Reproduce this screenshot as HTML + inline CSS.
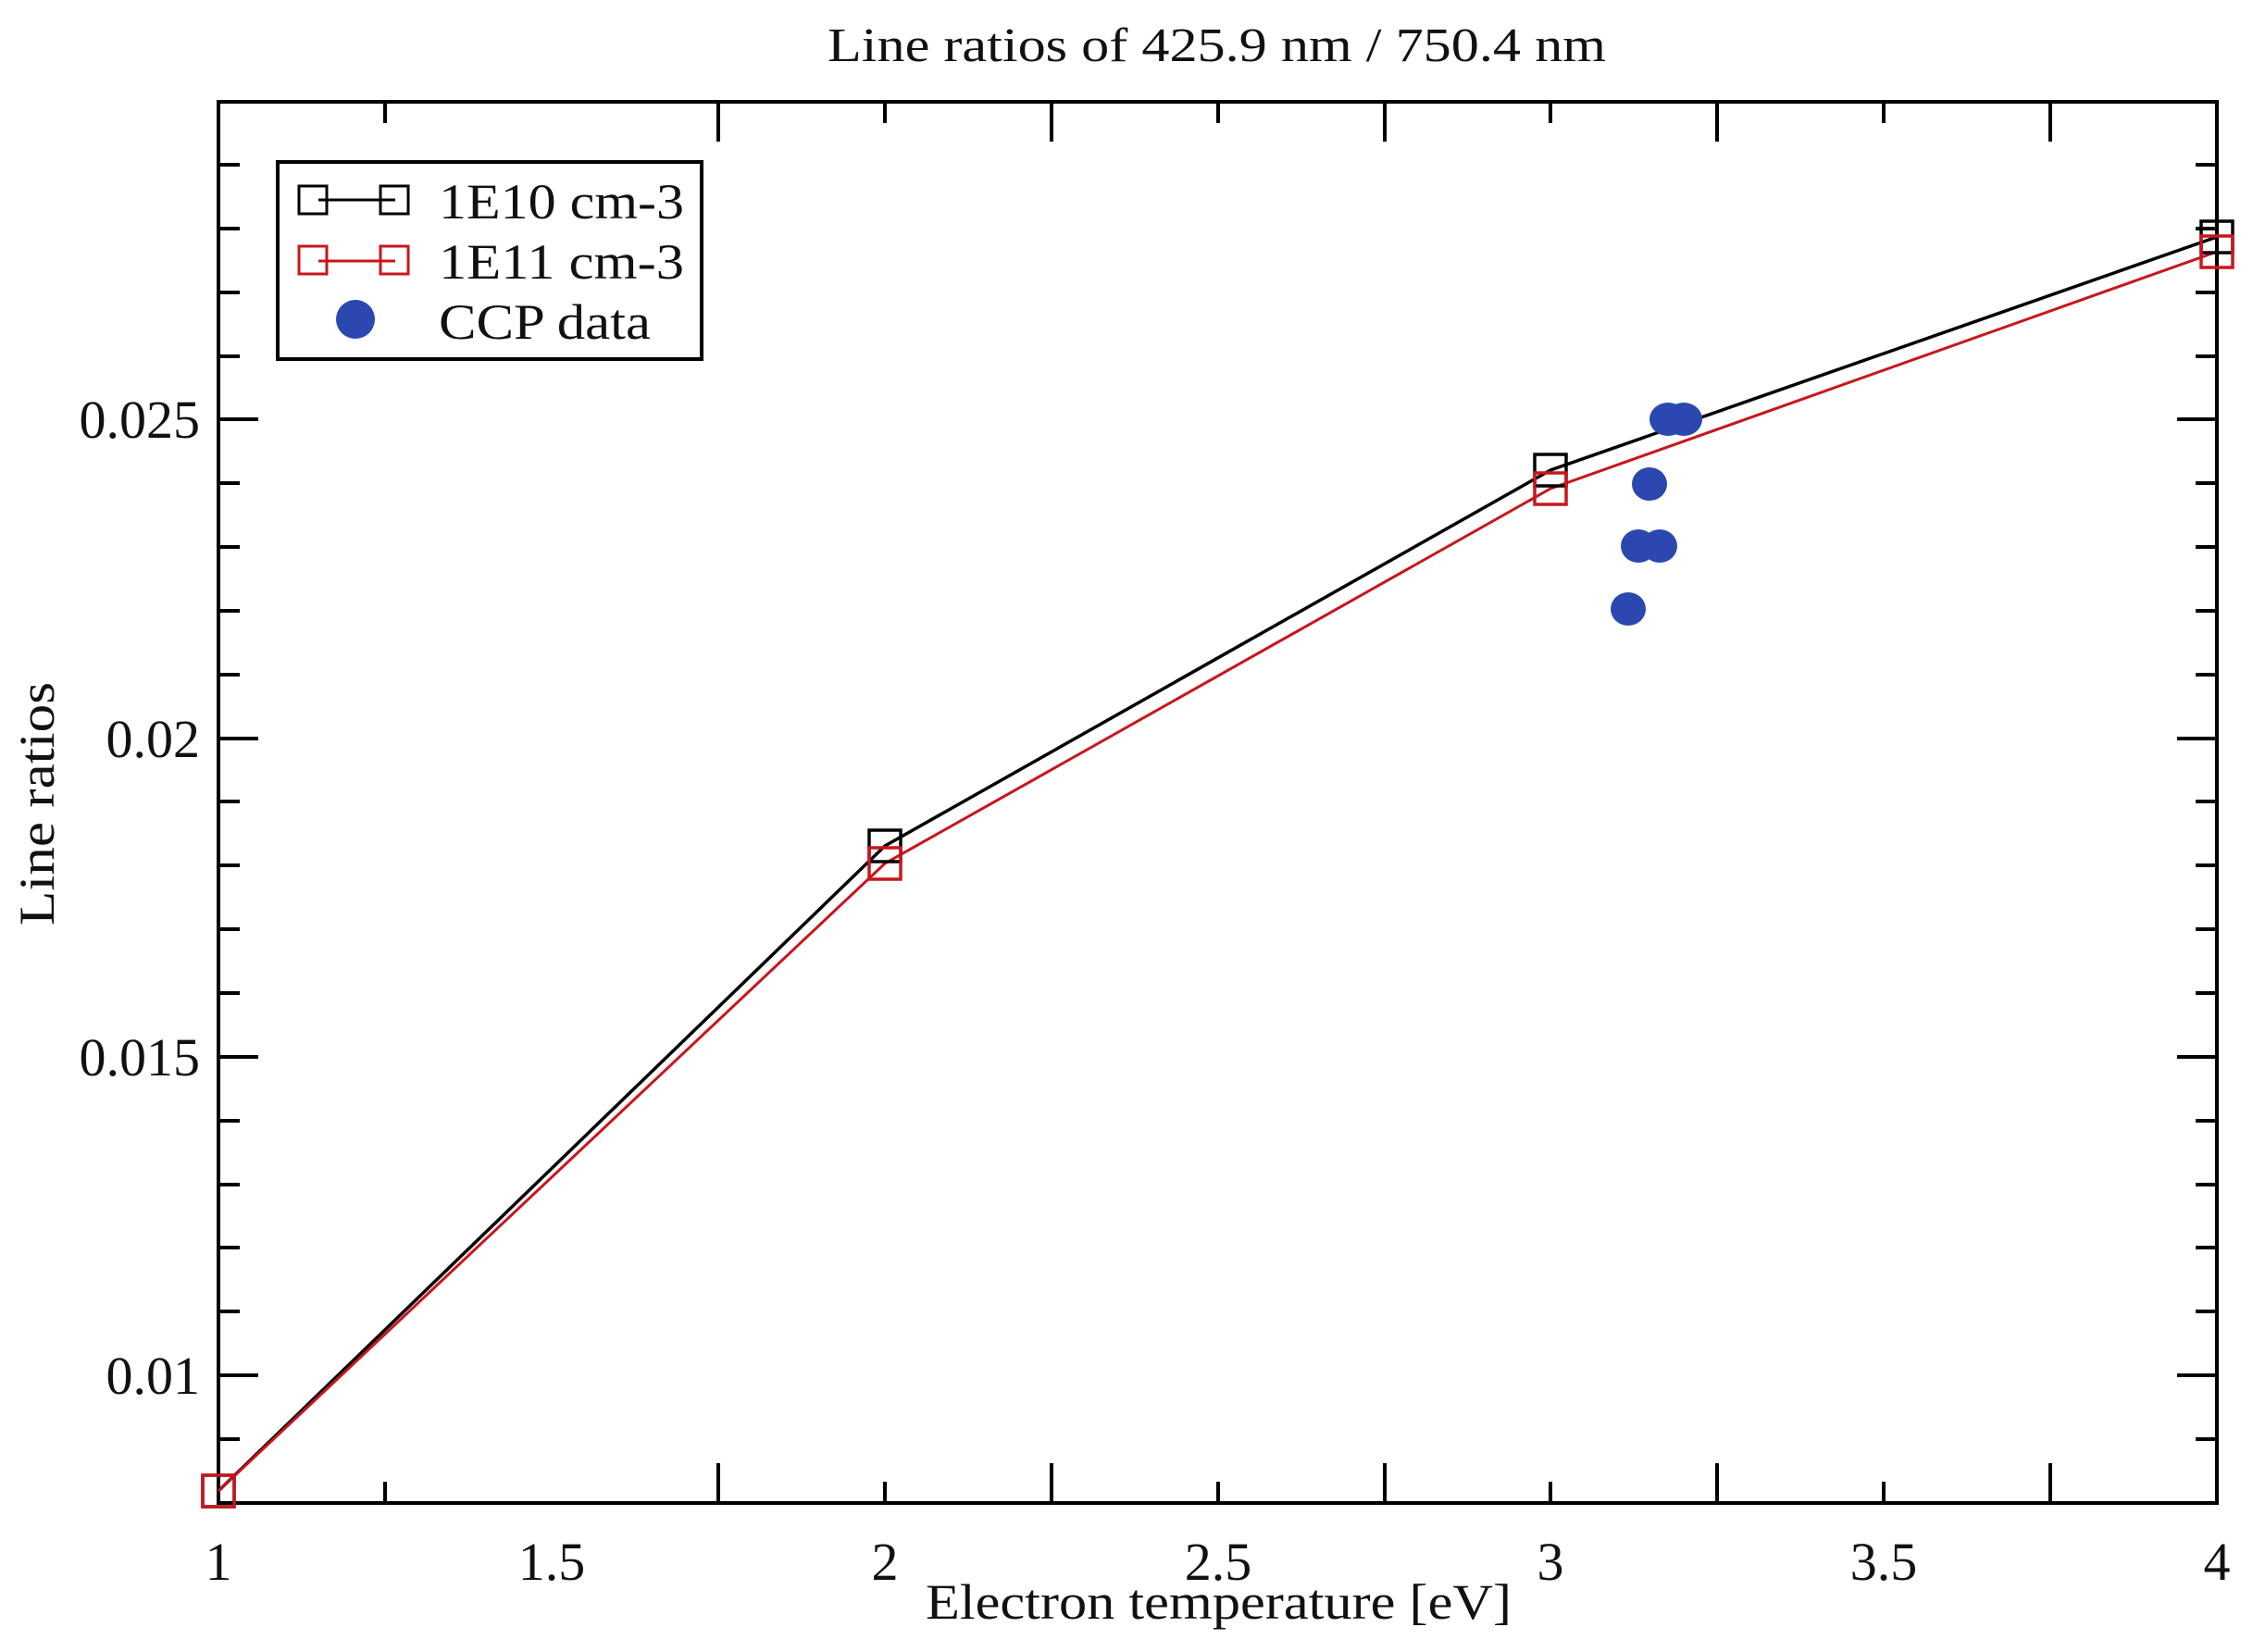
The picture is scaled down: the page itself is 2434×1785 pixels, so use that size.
<!DOCTYPE html>
<html><head><meta charset="utf-8"><style>html,body{margin:0;padding:0;background:#fff}svg{display:block}</style></head>
<body>
<svg width="2434" height="1785" viewBox="0 0 2434 1785" xmlns="http://www.w3.org/2000/svg" font-family="Liberation Serif, serif">
<rect width="2434" height="1785" fill="#fff"/>
<g id="ticks" stroke="#000" stroke-width="4">
<!-- x ticks -->
<path d="M416,1624v-23M416,110v23M776,1624v-43M776,110v43M956,1624v-23M956,110v23M1136,1624v-43M1136,110v43M1316,1624v-23M1316,110v23M1496,1624v-43M1496,110v43M1675,1624v-23M1675,110v23M1855,1624v-43M1855,110v43M2035,1624v-23M2035,110v23M2215,1624v-43M2215,110v43"/>
<!-- y ticks -->
<path id="yt" d="
M236,1555h23M236,1486h43M236,1417h23M236,1348h23M236,1280h23M236,1211h23M236,1142h43M236,1073h23M236,1004h23M236,935h23M236,866h23M236,798h43M236,729h23M236,660h23M236,591h23M236,522h23M236,453h43M236,385h23M236,316h23M236,247h23M236,178h23
M2395,1555h-23M2395,1486h-43M2395,1417h-23M2395,1348h-23M2395,1280h-23M2395,1211h-23M2395,1142h-43M2395,1073h-23M2395,1004h-23M2395,935h-23M2395,866h-23M2395,798h-43M2395,729h-23M2395,660h-23M2395,591h-23M2395,522h-23M2395,453h-43M2395,385h-23M2395,316h-23M2395,247h-23M2395,178h-23"/>
</g>
<rect x="236" y="110" width="2159" height="1514" fill="none" stroke="#000" stroke-width="4"/>
<!-- series -->
<polyline points="236,1611 956,914 1675,508 2395,256" fill="none" stroke="#000" stroke-width="3.5"/>
<polyline points="236,1611 956,933 1675,528 2395,272" fill="none" stroke="#c8161d" stroke-width="3"/>
<g fill="none" stroke-width="3.5">
<g stroke="#000">
<rect x="219" y="1594" width="34" height="34"/>
<rect x="939" y="897" width="34" height="34"/>
<rect x="1658" y="491" width="34" height="34"/>
<rect x="2378" y="239" width="34" height="34"/>
</g>
<g stroke="#c8161d">
<rect x="219" y="1594" width="34" height="34"/>
<rect x="939" y="916" width="34" height="34"/>
<rect x="1658" y="511" width="34" height="34"/>
<rect x="2378" y="255" width="34" height="34"/>
</g>
</g>
<g fill="#2a48b0">
<ellipse cx="1802" cy="453" rx="20" ry="18"/>
<ellipse cx="1819" cy="453" rx="20" ry="18"/>
<ellipse cx="1782" cy="523" rx="19" ry="18"/>
<ellipse cx="1770" cy="590" rx="19" ry="18"/>
<ellipse cx="1793" cy="590" rx="19" ry="18"/>
<ellipse cx="1759" cy="658" rx="19" ry="18"/>
</g>
<!-- legend -->
<rect x="300" y="175" width="458" height="213" fill="#fff" stroke="#000" stroke-width="4"/>
<g fill="none" stroke-width="3">
<path d="M344,216h83" stroke="#000"/>
<rect x="323" y="201" width="30" height="30" stroke="#000"/>
<rect x="411" y="201" width="30" height="30" stroke="#000"/>
<path d="M344,282h83" stroke="#c8161d"/>
<rect x="323" y="266" width="30" height="30" stroke="#c8161d"/>
<rect x="411" y="266" width="30" height="30" stroke="#c8161d"/>
</g>
<ellipse cx="384" cy="345" rx="21" ry="21" fill="#2a48b0"/>
<g font-size="54" fill="#111">
<text x="474" y="236" textLength="265" lengthAdjust="spacingAndGlyphs">1E10 cm-3</text>
<text x="474" y="301" textLength="265" lengthAdjust="spacingAndGlyphs">1E11 cm-3</text>
<text x="474" y="366" textLength="229" lengthAdjust="spacingAndGlyphs">CCP data</text>
</g>
<!-- tick labels -->
<g font-size="58" fill="#111" text-anchor="middle">
<text x="236" y="1707">1</text>
<text x="596" y="1707">1.5</text>
<text x="956" y="1707">2</text>
<text x="1316" y="1707">2.5</text>
<text x="1675" y="1707">3</text>
<text x="2035" y="1707">3.5</text>
<text x="2395" y="1707">4</text>
</g>
<g font-size="58" fill="#111" text-anchor="end">
<text x="216" y="1506">0.01</text>
<text x="216" y="1162">0.015</text>
<text x="216" y="818">0.02</text>
<text x="216" y="473">0.025</text>
</g>
<text x="894" y="66" font-size="52" fill="#111" textLength="841" lengthAdjust="spacingAndGlyphs">Line ratios of 425.9 nm / 750.4 nm</text>
<text x="1000" y="1749" font-size="54" fill="#111" textLength="633" lengthAdjust="spacingAndGlyphs">Electron temperature [eV]</text>
<text transform="translate(58,1000) rotate(-90)" x="0" y="0" font-size="54" fill="#111" textLength="263" lengthAdjust="spacingAndGlyphs">Line ratios</text>
</svg>
</body></html>
